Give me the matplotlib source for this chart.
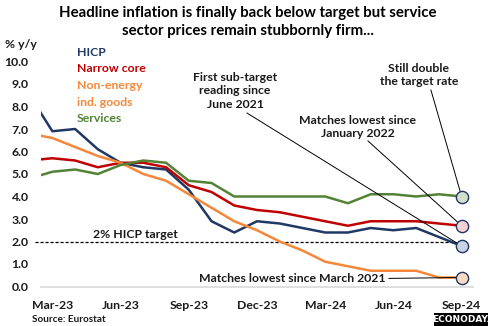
import matplotlib
matplotlib.use("Agg")
import matplotlib.pyplot as plt
from matplotlib.patches import Rectangle

months = ["Feb-23", "Mar-23", "Apr-23", "May-23", "Jun-23", "Jul-23", "Aug-23", "Sep-23",
          "Oct-23", "Nov-23", "Dec-23", "Jan-24", "Feb-24", "Mar-24", "Apr-24", "May-24",
          "Jun-24", "Jul-24", "Aug-24", "Sep-24"]
hicp = [8.5, 6.9, 7.0, 6.1, 5.5, 5.3, 5.2, 4.3, 2.9, 2.4, 2.9, 2.8, 2.6, 2.4, 2.4, 2.6, 2.5, 2.6, 2.2, 1.8]
narrow_core = [5.6, 5.7, 5.6, 5.3, 5.5, 5.5, 5.3, 4.5, 4.2, 3.6, 3.4, 3.3, 3.1, 2.9, 2.7, 2.9, 2.9, 2.9, 2.8, 2.7]
neig = [6.8, 6.6, 6.2, 5.8, 5.5, 5.0, 4.7, 4.1, 3.5, 2.9, 2.5, 2.0, 1.6, 1.1, 0.9, 0.7, 0.7, 0.7, 0.4, 0.4]
services = [4.8, 5.1, 5.2, 5.0, 5.4, 5.6, 5.5, 4.7, 4.6, 4.0, 4.0, 4.0, 4.0, 4.0, 3.7, 4.1, 4.1, 4.0, 4.1, 4.0]
tick_labels = ["Mar-23", "Jun-23", "Sep-23", "Dec-23", "Mar-24", "Jun-24", "Sep-24"]
yticks = [0, 1, 2, 3, 4, 5, 6, 7, 8, 9, 10]
target = 2.0

FONT = "Lato"
FS = 8.8
C_HICP = "#1F3864"
C_CORE = "#C00000"
C_NEIG = "#F4883A"
C_SERV = "#548235"

W, H = 489, 326
fig = plt.figure(figsize=(W / 100, H / 100), dpi=100)
x0, x1 = 41, 473
y_zero, y_ten = 286.5, 61.5
ymax = 10.5
px_per_unit = (y_zero - y_ten) / 10
y_top = y_zero - ymax * px_per_unit
ax = fig.add_axes([x0 / W, 1 - y_zero / H, (x1 - x0) / W, (y_zero - y_top) / H])

x = list(range(len(months)))
series = [(hicp, C_HICP), (narrow_core, C_CORE), (neig, C_NEIG), (services, C_SERV)]
for vals, c in series:
    ax.plot(x, vals, color=c, lw=1.8, zorder=3)

ax.set_xlim(0.5, len(months) - 0.5)
ax.set_ylim(0, ymax)
for s in ax.spines.values():
    s.set_visible(False)
ax.axhline(0, color="#D9D9D9", lw=1.2, zorder=1, clip_on=False)

tick_pos = [months.index(t) for t in tick_labels]
ax.set_xticks(tick_pos)
ax.set_xticklabels(tick_labels, fontfamily=FONT, fontweight="bold", fontsize=FS, color="#1a1a1a")
ax.set_yticks(yticks)
ax.set_yticklabels([f"{v:.1f}" for v in yticks], fontfamily=FONT, fontweight="bold", fontsize=FS, color="#1a1a1a")
ax.tick_params(axis="both", length=0)
ax.tick_params(axis="x", pad=10)
ax.tick_params(axis="y", pad=9)

# 2% target line
trans = ax.get_yaxis_transform()
ax.plot([-0.015, 0.96], [target, target], transform=trans, color="black", lw=0.9,
        ls=(0, (2.5, 1.5)), clip_on=False, zorder=2)
ax.text(4.63, 2.3, "2% HICP target", ha="center", va="center", fontfamily=FONT,
        fontweight="bold", fontsize=FS, color="#1a1a1a")

# end markers
last = len(months) - 1
fills = [(services[-1], "#D4DFCB"), (narrow_core[-1], "#F6D2D2"), (hicp[-1], "#C9D3E3"), (neig[-1], "#FAD9C4")]
for v, fc in fills:
    ax.plot([last], [v], marker="o", ms=8.8, mfc=fc, mec=C_HICP, mew=1.0, zorder=5, clip_on=False)

def note(text, txy, start, end):
    ax.text(txy[0], txy[1], text, ha="center", va="center", fontfamily=FONT,
            fontweight="bold", fontsize=FS, color="#1a1a1a", linespacing=1.25)
    ax.plot([start[0], end[0]], [start[1], end[1]], color="black", lw=0.7, zorder=4, clip_on=False)

note("First sub-target\nreading since\nJune 2021", (9.03, 8.69), (9.56, 7.71), (last, hicp[-1]))
note("Matches lowest since\nJanuary 2022", (14.44, 7.09), (14.88, 6.47), (last, narrow_core[-1]))
note("Still double\nthe target rate", (17.12, 9.4), (17.65, 8.73), (last, services[-1]))
ax.text(15.67, 0.36, "Matches lowest since March 2021", ha="right", va="center", fontfamily=FONT,
        fontweight="bold", fontsize=FS, color="#1a1a1a")
ax.plot([15.8, last], [0.36, neig[-1]], color="black", lw=0.7, zorder=4)

# legend text
leg = [("HICP", C_HICP, 52), ("Narrow core", C_CORE, 69), ("Non-energy", C_NEIG, 85),
       ("ind. goods", C_NEIG, 102), ("Services", C_SERV, 118)]
for t, c, py in leg:
    fig.text(77 / W, 1 - py / H, t, ha="left", va="center", color=c, fontfamily=FONT,
             fontweight="bold", fontsize=FS)

fig.text(5 / W, 1 - 45 / H, "% y/y", ha="left", va="center", fontfamily=FONT,
         fontweight="bold", fontsize=FS, color="#1a1a1a")

fig.text(248 / W, 1 - 22 / H,
         "Headline inflation is finally back below target but service\nsector prices remain stubbornly firm...",
         ha="center", va="center", fontfamily=FONT, fontweight="bold", fontsize=10.8,
         color="black", linespacing=1.3)

fig.text(32 / W, 1 - 320 / H, "Source: Eurostat", ha="left", va="center", fontfamily=FONT,
         fontweight="bold", fontsize=7.2, color="#1a1a1a")

# logo
fig.patches.append(Rectangle((434 / W, 0), (W - 434) / W, 13 / H, transform=fig.transFigure,
                             facecolor="black", edgecolor="none"))
fig.text(461.5 / W, 6.5 / H, "ECONODAY.", ha="center", va="center", color="white",
         fontfamily="DejaVu Sans", fontweight="bold", fontsize=6.5)

fig.savefig("out.png", dpi=100)
